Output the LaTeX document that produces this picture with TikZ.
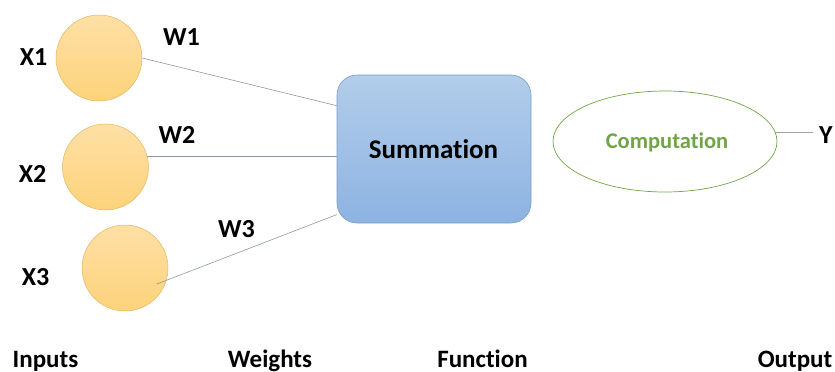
\documentclass[tikz,border=0pt]{standalone}
\usepackage{fontspec}
\setmainfont{Carlito}[Ligatures=NoCommon]
\usetikzlibrary{calc,shapes.geometric}
\definecolor{inorange}{HTML}{FDD37A}
\definecolor{inorangetop}{HTML}{FEE0A6}
\definecolor{inedge}{HTML}{E2B560}
\definecolor{boxtop}{HTML}{B3CDEA}
\definecolor{boxbot}{HTML}{8DB3E2}
\definecolor{boxedge}{HTML}{7A9CC8}
\definecolor{compgreen}{HTML}{70A547}
\definecolor{wire}{HTML}{8E98A6}
\definecolor{outwire}{HTML}{9AAA90}
\tikzset{
  inputnode/.style={circle, minimum size=86pt, inner sep=0pt, draw=inedge, line width=0.5pt,
    top color=inorangetop, bottom color=inorange},
  sumbox/.style={rectangle, rounded corners=20pt, minimum width=194pt, minimum height=148pt,
    draw=boxedge, line width=0.6pt, top color=boxtop, bottom color=boxbot},
  compnode/.style={ellipse, minimum width=224pt, minimum height=101pt, inner sep=0pt,
    draw=compgreen, line width=0.7pt},
  lbl/.style={inner sep=0pt, anchor=base, font=\bfseries\fontsize{26}{30}\selectfont},
  caption/.style={inner sep=0pt, anchor=base, font=\bfseries\fontsize{25}{30}\selectfont},
  wireline/.style={draw=wire, line width=0.6pt}
}
\begin{document}
\begin{tikzpicture}[x=1pt,y=-1pt]
  \useasboundingbox (0,0) rectangle (835,372);
  % inputs
  \node[inputnode] (c1) at (99,58) {};
  \node[inputnode] (c2) at (105.5,167) {};
  \node[inputnode] (c3) at (125,268) {};
  \node[lbl] (x1) at (33.5,65) {X1};
  \node[lbl] (x2) at (32.5,182) {X2};
  \node[lbl] (x3) at (35.5,285) {X3};
  % weights
  \node[lbl] (w1) at (181.5,45) {W1};
  \node[lbl] (w2) at (177,143) {W2};
  \node[lbl] (w3) at (236.5,237) {W3};
  % function and output
  \node[sumbox] (sum) at (434,149) {};
  \node[lbl, font=\bfseries\fontsize{27}{32}\selectfont] (sumtxt) at (433.5,158) {Summation};
  \node[compnode] (comp) at (665,141.5) {};
  \node[lbl, text=compgreen, font=\bfseries\fontsize{22.5}{27}\selectfont] (comptxt) at (667,148) {Computation};
  \node[lbl, anchor=base west] (y) at (819,143) {Y};
  % connections
  \draw[wireline] (c1.east) -- (sum.156);
  \draw[wireline] (c2.15) -- (c2.15 -| sum.west);
  \draw[wireline] ($(c3.center)!0.82!(c3.-27)$) -- (sum.214);
  \draw[wireline, draw=outwire, shorten >=6pt] (comp.5) -- (comp.5 -| y.west);
  % column captions
  \node[caption] (cin) at (45.5,367) {Inputs};
  \node[caption] (cw) at (270,367) {Weights};
  \node[caption] (cf) at (482.5,367) {Function};
  \node[caption] (cout) at (795,367) {Output};
\end{tikzpicture}
\end{document}
